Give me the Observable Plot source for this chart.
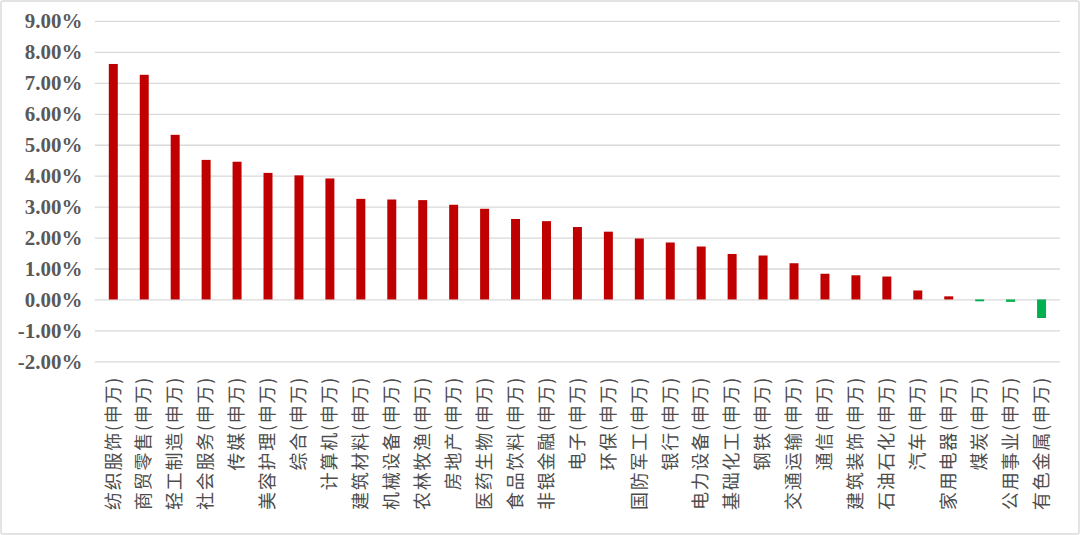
<!DOCTYPE html>
<html>
<head>
<meta charset="utf-8">
<script src="https://cdn.jsdelivr.net/npm/d3@7"></script>
<script src="https://cdn.jsdelivr.net/npm/@observablehq/plot@0.6"></script>
<style>
  html, body { margin: 0; padding: 0; background: #fff; }
  #frame { position: relative; width: 1080px; height: 535px; box-sizing: border-box; border: 2px solid #e3e3e3; border-radius: 3px; overflow: hidden; background: #fff; }
  #chart { position: absolute; left: -2px; top: -2px; }
</style>
</head>
<body>
<div id="frame"><div id="chart"></div></div>
<script>
const categories = ["纺织服饰(申万)","商贸零售(申万)","轻工制造(申万)","社会服务(申万)","传媒(申万)","美容护理(申万)","综合(申万)","计算机(申万)","建筑材料(申万)","机械设备(申万)","农林牧渔(申万)","房地产(申万)","医药生物(申万)","食品饮料(申万)","非银金融(申万)","电子(申万)","环保(申万)","国防军工(申万)","银行(申万)","电力设备(申万)","基础化工(申万)","钢铁(申万)","交通运输(申万)","通信(申万)","建筑装饰(申万)","石油石化(申万)","汽车(申万)","家用电器(申万)","煤炭(申万)","公用事业(申万)","有色金属(申万)"];
const values = [7.61, 7.26, 5.32, 4.51, 4.45, 4.09, 4.01, 3.91, 3.25, 3.23, 3.21, 3.06, 2.93, 2.60, 2.53, 2.34, 2.19, 1.97, 1.84, 1.71, 1.47, 1.42, 1.17, 0.83, 0.78, 0.74, 0.29, 0.10, -0.06, -0.08, -0.60];
const yTicks = [-2, -1, 0, 1, 2, 3, 4, 5, 6, 7, 8, 9];

const data = categories.map((c, i) => ({name: c, value: values[i]}));

const chart = Plot.plot({
  width: 1080,
  height: 535,
  marginLeft: 95,
  marginRight: 18,
  marginTop: 21,
  marginBottom: 173,
  style: {background: "transparent"},
  x: {domain: categories, paddingInner: 0.71, paddingOuter: 0.385, label: null},
  y: {domain: [-2, 9], label: null},
  marks: [
    Plot.ruleY(yTicks, {stroke: "#d9d9d9", strokeWidth: 1.3}),
    Plot.barY(data, {x: "name", y: "value", fill: d => d.value >= 0 ? "#C00000" : "#00B050"}),
    Plot.axisY(yTicks, {
      tickSize: 0, tickPadding: 13,
      tickFormat: d => d.toFixed(2) + "%",
      fontSize: 21, fontWeight: "bold", fontFamily: "Liberation Serif, DejaVu Serif, serif",
      fill: "#595959", label: null
    }),
    Plot.axisX({
      tickSize: 0, tickPadding: 14, tickRotate: -90,
      fontSize: 18, fontFamily: "Noto Sans CJK SC, sans-serif",
      fill: "#4d4d4d", label: null
    })
  ]
});
chart.querySelectorAll('g[aria-label="x-axis tick label"] text').forEach(t => t.setAttribute("letter-spacing", "1.8"));
document.getElementById("chart").appendChild(chart);
</script>
</body>
</html>
